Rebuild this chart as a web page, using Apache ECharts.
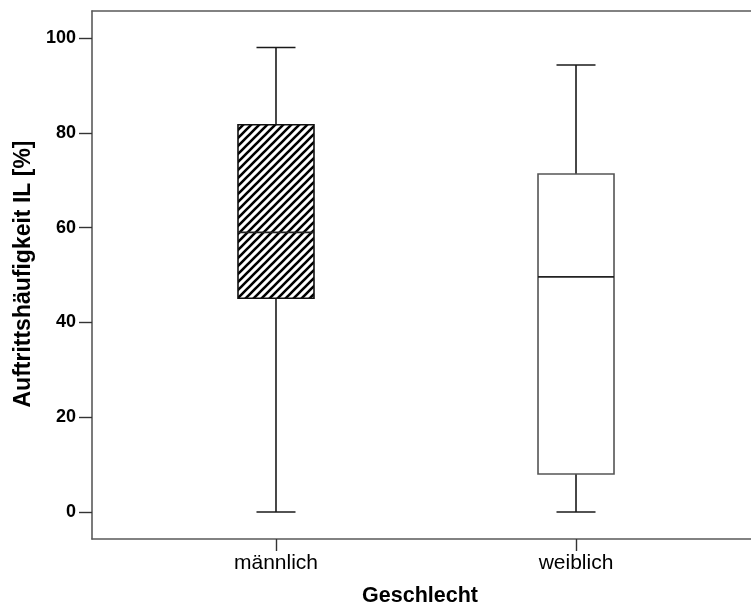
<!DOCTYPE html>
<html>
<head>
<meta charset="utf-8">
<script src="https://cdn.jsdelivr.net/npm/echarts@6/dist/echarts.min.js"></script>
<style>
  html, body { margin: 0; padding: 0; background: #fff; }
  #chart { width: 751px; height: 610px; }
</style>
</head>
<body>
<div id="chart"></div>
<script>
// Box plot: Auftrittshäufigkeit IL by Geschlecht
const categories = ['männlich', 'weiblich'];
const whiskerLow = [0, 0];
const quartile1 = [45.1, 8.0];
const medians = [59.0, 49.6];
const quartile3 = [81.7, 71.3];
const whiskerHigh = [98.0, 94.3];
const yTicks = [0, 20, 40, 60, 80, 100];

const FONT = '"Liberation Sans", Arial, sans-serif';
const X_MIN = 0.3867, X_MAX = 2.5833;
const FRAME = { color: '#5a5a5a', width: 1.6 };

// Diagonal hatch tile for the first group's box
function hatchTile() {
  const c = document.createElement('canvas');
  const s = 8;
  c.width = s; c.height = s;
  const g = c.getContext('2d');
  g.fillStyle = '#fff';
  g.fillRect(0, 0, s, s);
  g.strokeStyle = '#000';
  g.lineWidth = 2.6;
  g.beginPath();
  for (let k = -1; k <= 1; k++) {
    g.moveTo(k * s - 1, s + 1);
    g.lineTo(k * s + s + 1, -1);
  }
  g.stroke();
  return c;
}
const hatch = { image: hatchTile(), repeat: 'repeat' };

const rows = categories.map((c, i) => [i + 1, whiskerLow[i], quartile1[i], medians[i], quartile3[i], whiskerHigh[i]]);

function renderBox(params, api) {
  const x = api.value(0);
  const pLow = api.coord([x, api.value(1)]);
  const pQ1 = api.coord([x, api.value(2)]);
  const pMed = api.coord([x, api.value(3)]);
  const pQ3 = api.coord([x, api.value(4)]);
  const pHigh = api.coord([x, api.value(5)]);
  const halfW = 38, capW = 19.5;
  const cx = pMed[0];
  const whisk = { stroke: '#1a1a1a', lineWidth: 1.6 };
  const edge = params.dataIndex === 0 ? '#111' : '#555';
  return {
    type: 'group',
    children: [
      { type: 'line', shape: { x1: cx, y1: pQ3[1], x2: cx, y2: pHigh[1] }, style: whisk },
      { type: 'line', shape: { x1: cx - capW, y1: pHigh[1], x2: cx + capW, y2: pHigh[1] }, style: whisk },
      { type: 'line', shape: { x1: cx, y1: pLow[1], x2: cx, y2: pQ1[1] }, style: whisk },
      { type: 'line', shape: { x1: cx - capW, y1: pLow[1], x2: cx + capW, y2: pLow[1] }, style: whisk },
      {
        type: 'rect',
        shape: { x: cx - halfW, y: pQ3[1], width: halfW * 2, height: pQ1[1] - pQ3[1] },
        style: { fill: params.dataIndex === 0 ? hatch : '#fff', stroke: edge, lineWidth: 1.6 }
      },
      { type: 'line', shape: { x1: cx - halfW, y1: pMed[1], x2: cx + halfW, y2: pMed[1] }, style: { stroke: '#222', lineWidth: 1.6 } }
    ]
  };
}

const chart = echarts.init(document.getElementById('chart'), null, { renderer: 'canvas' });
chart.setOption({
  backgroundColor: '#fff',
  animation: false,
  grid: { left: 92, top: 11, right: 0, bottom: 71, show: false },
  xAxis: [
    {
      type: 'value',
      position: 'bottom',
      min: X_MIN,
      max: X_MAX,
      splitLine: { show: false },
      axisLine: { show: true, onZero: false, lineStyle: FRAME },
      axisTick: { show: true, length: 12, customValues: [1, 2], lineStyle: { color: '#333', width: 1.4 } },
      axisLabel: {
        customValues: [1, 2],
        formatter: v => categories[Math.round(v) - 1] || '',
        margin: 14,
        color: '#000',
        fontFamily: FONT,
        fontSize: 21
      }
    },
    {
      // top edge of the frame
      type: 'value',
      position: 'top',
      min: X_MIN,
      max: X_MAX,
      splitLine: { show: false },
      axisLine: { show: true, onZero: false, lineStyle: FRAME },
      axisTick: { show: false },
      axisLabel: { show: false }
    }
  ],
  yAxis: {
    type: 'value',
    min: -5.7,
    max: 105.7,
    splitLine: { show: false },
    axisLine: { show: true, onZero: false, lineStyle: FRAME },
    axisTick: { show: true, length: 13, customValues: yTicks, lineStyle: { color: '#333', width: 1.4 } },
    axisLabel: {
      customValues: yTicks,
      margin: 16,
      color: '#000',
      fontFamily: FONT,
      fontSize: 18,
      fontWeight: 'bold'
    }
  },
  graphic: [
    {
      type: 'text',
      x: 24, y: 274,
      rotation: Math.PI / 2,
      style: {
        text: 'Auftrittshäufigkeit IL [%]',
        fontFamily: FONT, fontSize: 23, fontWeight: 'bold', fill: '#000',
        align: 'center', verticalAlign: 'middle'
      }
    },
    {
      type: 'text',
      x: 420, y: 596,
      style: {
        text: 'Geschlecht',
        fontFamily: FONT, fontSize: 21.5, fontWeight: 'bold', fill: '#000',
        align: 'center', verticalAlign: 'middle'
      }
    }
  ],
  series: [{
    type: 'custom',
    xAxisIndex: 0,
    renderItem: renderBox,
    encode: { x: 0, y: [1, 2, 3, 4, 5] },
    data: rows,
    clip: false
  }]
});
</script>
</body>
</html>
